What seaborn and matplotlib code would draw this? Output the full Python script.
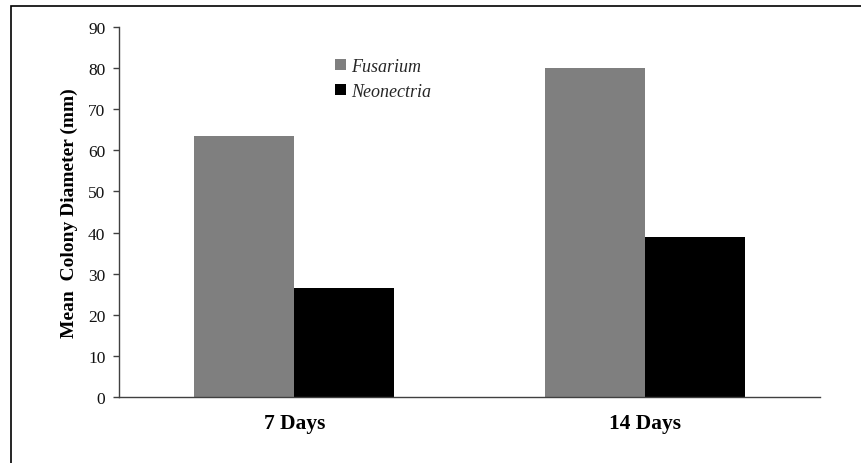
import matplotlib
matplotlib.use("Agg")
import matplotlib.pyplot as plt
from matplotlib.patches import Rectangle
import seaborn as sns
import pandas as pd

# Mean colony diameter (mm) by incubation time
periods = ["7 Days", "14 Days"]
genera = ["Fusarium", "Neonectria"]
fusarium = [63.5, 80.0]
neonectria = [26.5, 39.0]

df = pd.DataFrame({
    "period": periods * 2,
    "genus": [genera[0]] * len(periods) + [genera[1]] * len(periods),
    "diameter": fusarium + neonectria,
})

sns.set_theme(style="white")
plt.rcParams["font.family"] = ["Liberation Serif", "DejaVu Serif"]

W, H = 862, 464
fig = plt.figure(figsize=(W / 100, H / 100), dpi=100)
ax = fig.add_axes([119 / W, 1 - 398.3 / H, (820 - 119) / W, (398.3 - 27.7) / H])

sns.barplot(
    data=df, x="period", y="diameter", hue="genus",
    order=periods, hue_order=genera,
    palette=["#7f7f7f", "#000000"], width=0.571,
    saturation=1, linewidth=0, errorbar=None, ax=ax,
)

ax.set_xlim(-0.5, 1.5)
ax.set_ylim(0, 90)
ax.set_yticks(range(0, 91, 10))
ax.set_xlabel("")
ax.set_ylabel("Mean  Colony Diameter (mm)", fontsize=14, fontweight="bold", color="black")
ax.yaxis.set_label_coords(-0.058, 0.5)

for side in ["top", "right"]:
    ax.spines[side].set_visible(False)
for side in ["left", "bottom"]:
    ax.spines[side].set_color("#404040")
    ax.spines[side].set_linewidth(1.0)

ax.tick_params(axis="y", direction="out", length=4.3, width=1.0, color="#404040",
               labelsize=12.5, pad=5.5, labelcolor="#111111", left=True)
ax.tick_params(axis="x", length=0, pad=11.5, labelsize=15.5, labelcolor="black")
for lbl in ax.get_xticklabels():
    lbl.set_fontweight("bold")

handles, labels = ax.get_legend_handles_labels()
ax.legend(
    handles, labels, loc="upper left",
    bbox_to_anchor=(335 / W, 1 - 59 / H), bbox_transform=fig.transFigure,
    frameon=False, prop={"family": "Liberation Serif", "style": "italic", "size": 13},
    handlelength=0.6, handleheight=0.6, handletextpad=0.3, labelspacing=0.45,
    borderpad=0, borderaxespad=0,
)

# Frame around the figure (top and left edges)
fig.add_artist(Rectangle((11 / W, -0.2), 1.5, 0.2 + 1 - 7 / H, transform=fig.transFigure,
                         fill=False, edgecolor="black", linewidth=1.2))

fig.savefig("out.png", dpi=100, facecolor="white")
